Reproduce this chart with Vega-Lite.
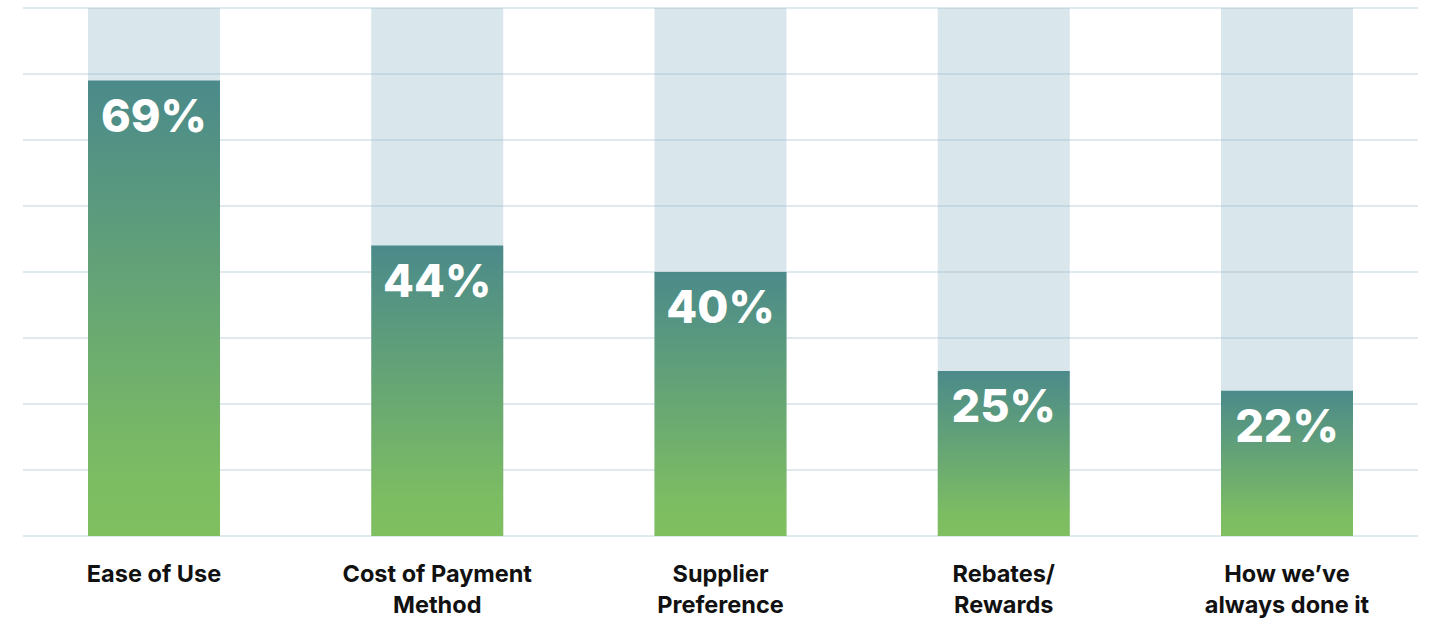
{
  "$schema": "https://vega.github.io/schema/vega-lite/v6.json",
  "autosize": {"type": "none"},
  "width": 1395,
  "height": 528,
  "padding": {"left": 23, "top": 8, "right": 16, "bottom": 86},
  "background": "white",
  "config": {"view": {"stroke": null}},
  "datasets": {
    "bars": [
      {"category": "Ease of Use", "value": 0.69},
      {"category": "Cost of Payment|Method", "value": 0.44},
      {"category": "Supplier|Preference", "value": 0.40},
      {"category": "Rebates/|Rewards", "value": 0.25},
      {"category": "How we’ve|always done it", "value": 0.22}
    ],
    "grid": [
      {"g": 0}, {"g": 0.1}, {"g": 0.2}, {"g": 0.3}, {"g": 0.4},
      {"g": 0.5}, {"g": 0.6}, {"g": 0.7}, {"g": 0.8}
    ]
  },
  "layer": [
    {
      "data": {"name": "bars"},
      "mark": {"type": "bar", "fill": "#d9e6ec"},
      "encoding": {
        "x": {
          "field": "category", "type": "nominal", "sort": null,
          "scale": {"paddingInner": 0.534, "paddingOuter": 0.2295},
          "axis": {
            "title": null, "domain": false, "ticks": false, "labelAngle": 0,
            "labelExpr": "split(datum.label, '|')",
            "labelFont": "Inter", "labelFontSize": 23.5, "labelFontWeight": 700,
            "labelColor": "#111111", "labelLineHeight": 31, "labelPadding": 26,
            "labelBaseline": "top", "labelLimit": 400
          }
        },
        "y": {"datum": 0.8, "type": "quantitative", "scale": {"domain": [0, 0.8], "nice": false}, "axis": null}
      }
    },
    {
      "data": {"name": "grid"},
      "mark": {"type": "rule", "stroke": "#97b8c8", "strokeOpacity": 0.31, "strokeWidth": 2},
      "encoding": {
        "y": {"field": "g", "type": "quantitative"}
      }
    },
    {
      "data": {"name": "bars"},
      "mark": {
        "type": "bar",
        "fill": {
          "gradient": "linear", "x1": 0, "y1": 0, "x2": 0, "y2": 1,
          "stops": [
            {"offset": 0, "color": "#4b8a8a"},
            {"offset": 0.88, "color": "#7dbd62"},
            {"offset": 1, "color": "#7fbf60"}
          ]
        }
      },
      "encoding": {
        "x": {"field": "category", "type": "nominal", "sort": null},
        "y": {"field": "value", "type": "quantitative"}
      }
    },
    {
      "data": {"name": "bars"},
      "mark": {"type": "text", "color": "white", "font": "Inter", "fontSize": 45, "fontWeight": 800, "baseline": "alphabetic", "dy": 51},
      "encoding": {
        "x": {"field": "category", "type": "nominal", "sort": null},
        "y": {"field": "value", "type": "quantitative"},
        "text": {"field": "value", "type": "quantitative", "format": ".0%"}
      }
    }
  ]
}
